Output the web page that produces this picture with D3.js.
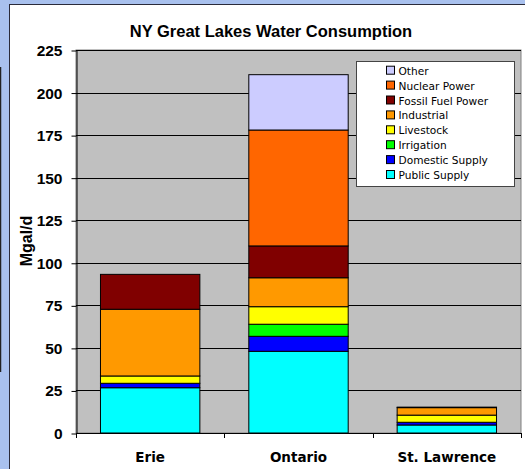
<!DOCTYPE html>
<html>
<head>
<meta charset="utf-8">
<script src="https://cdn.jsdelivr.net/npm/d3@7"></script>
<style>
  body { margin: 0; background: #a9c1ee; }
  svg { display: block; }
</style>
</head>
<body>
<div id="chart"></div>
<script>
const lakes = ['Erie', 'Ontario', 'St. Lawrence'];
const uses = ['Public Supply', 'Domestic Supply', 'Irrigation', 'Livestock', 'Industrial', 'Fossil Fuel Power', 'Nuclear Power', 'Other'];
const colors = ['#00ffff', '#0000ff', '#00ff00', '#ffff00', '#ff9900', '#800000', '#ff6600', '#ccccff'];

// Mgal/d, one array per use, in lake order
const publicSupply = [26.6, 48.0, 4.7];
const domesticSupply = [2.6, 8.8, 1.6];
const irrigation = [0, 7.1, 0];
const livestock = [4.3, 10.3, 4.2];
const industrial = [39.2, 17.0, 4.4];
const fossilFuel = [20.5, 18.7, 0.3];
const nuclear = [0, 68.1, 0];
const other = [0, 32.5, 0];

const yTicks = [0, 25, 50, 75, 100, 125, 150, 175, 200, 225];

const series = [publicSupply, domesticSupply, irrigation, livestock, industrial, fossilFuel, nuclear, other];
const rows = lakes.map((lake, i) => {
  const row = { lake: lake };
  uses.forEach((u, j) => { row[u] = series[j][i]; });
  return row;
});

const width = 525;
const height = 469;
const plotLeft = 76, plotRight = 521, plotTop = 50, plotBottom = 433;

const svg = d3.select('#chart')
  .append('svg')
  .attr('width', width)
  .attr('height', height);

// white chart panel
svg.append('rect')
  .attr('x', 9.5).attr('y', 4.5)
  .attr('width', width).attr('height', height)
  .attr('fill', '#fff')
  .attr('stroke', '#2b2b3a');

// bit of something dark on the far left
svg.append('line')
  .attr('x1', 0.5).attr('x2', 0.5)
  .attr('y1', 67).attr('y2', 372)
  .attr('stroke', '#222').attr('stroke-width', 1.5);

const x = d3.scaleBand()
  .domain(lakes)
  .range([plotLeft, plotRight])
  .paddingInner(0.33)
  .paddingOuter(0.165);

const y = d3.scaleLinear()
  .domain([0, 225])
  .range([plotBottom, plotTop]);

svg.append('rect')
  .attr('x', plotLeft).attr('y', plotTop)
  .attr('width', plotRight - plotLeft).attr('height', plotBottom - plotTop)
  .attr('fill', '#c0c0c0')
  .attr('stroke', '#808080');

// gridlines
svg.append('g')
  .selectAll('line')
  .data(yTicks.filter(d => d > 0))
  .enter()
  .append('line')
  .attr('x1', plotLeft).attr('x2', plotRight)
  .attr('y1', d => Math.round(y(d)) + 0.5)
  .attr('y2', d => Math.round(y(d)) + 0.5)
  .attr('stroke', '#000');

const stack = d3.stack().keys(uses)(rows);

svg.append('g')
  .selectAll('g')
  .data(stack)
  .enter()
  .append('g')
  .attr('fill', (d, i) => colors[i])
  .selectAll('rect')
  .data(d => d.filter(p => p[1] - p[0] > 0))
  .enter()
  .append('rect')
  .attr('x', d => x(d.data.lake))
  .attr('y', d => y(d[1]))
  .attr('width', x.bandwidth())
  .attr('height', d => y(d[0]) - y(d[1]))
  .attr('stroke', '#000')
  .attr('stroke-width', 1);

// axes
const yAxis = d3.axisLeft(y).tickValues(yTicks).tickSize(5).tickSizeOuter(0);
svg.append('g')
  .attr('transform', 'translate(' + (plotLeft + 0.5) + ',0.5)')
  .call(yAxis)
  .call(g => g.select('.domain').attr('stroke', '#000'))
  .call(g => g.selectAll('text')
    .attr('x', -14)
    .style('font-family', 'Liberation Sans, Arial, sans-serif')
    .style('font-size', '15.5px')
    .style('font-weight', 'bold')
    .attr('fill', '#000'));

const bounds = [0, 1, 2, 3].map(i => plotLeft + i * (plotRight - plotLeft) / 3);
const xAxis = svg.append('g');
xAxis.append('line')
  .attr('x1', plotLeft).attr('x2', plotRight)
  .attr('y1', plotBottom + 0.5).attr('y2', plotBottom + 0.5)
  .attr('stroke', '#000');
xAxis.selectAll('.tick')
  .data(bounds)
  .enter()
  .append('line')
  .attr('x1', d => Math.round(d) + 0.5).attr('x2', d => Math.round(d) + 0.5)
  .attr('y1', plotBottom).attr('y2', plotBottom + 5)
  .attr('stroke', '#000');
xAxis.selectAll('text')
  .data(lakes)
  .enter()
  .append('text')
  .attr('x', d => x(d) + x.bandwidth() / 2)
  .attr('y', 462)
  .attr('text-anchor', 'middle')
  .style('font-family', 'DejaVu Sans, sans-serif')
  .style('font-size', '13.5px')
  .style('font-weight', 'bold')
  .text(d => d);

svg.append('text')
  .attr('transform', 'translate(32,241) rotate(-90)')
  .attr('text-anchor', 'middle')
  .style('font-family', 'Liberation Sans, Arial, sans-serif')
  .style('font-size', '16px')
  .style('font-weight', 'bold')
  .text('Mgal/d');

svg.append('text')
  .attr('x', 271)
  .attr('y', 37)
  .attr('text-anchor', 'middle')
  .style('font-family', 'Liberation Sans, Arial, sans-serif')
  .style('font-size', '16.5px')
  .style('font-weight', 'bold')
  .text('NY Great Lakes Water Consumption');

// legend, top entry is the top of the stack
const legend = svg.append('g').attr('id', 'legend');
legend.append('rect')
  .attr('x', 356.5).attr('y', 61.5)
  .attr('width', 158).attr('height', 125)
  .attr('fill', '#fff')
  .attr('stroke', '#444');

const order = d3.range(uses.length).reverse();
const item = legend.selectAll('.item')
  .data(order)
  .enter()
  .append('g')
  .attr('transform', (d, i) => 'translate(0,' + (70.7 + i * 14.9) + ')');
item.append('rect')
  .attr('x', 386.5).attr('y', -4.5)
  .attr('width', 8).attr('height', 8)
  .attr('fill', d => colors[d])
  .attr('stroke', '#000');
item.append('text')
  .attr('x', 398.5)
  .attr('y', 4)
  .style('font-family', 'DejaVu Sans, sans-serif')
  .style('font-size', '10.6px')
  .text(d => uses[d]);
</script>
</body>
</html>
